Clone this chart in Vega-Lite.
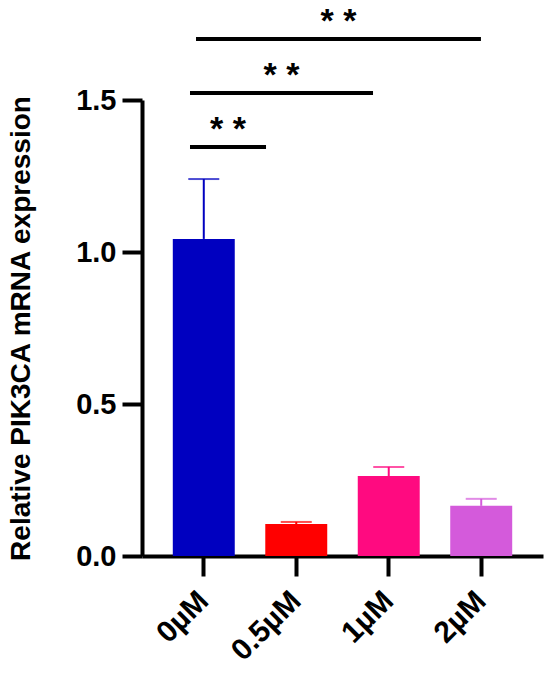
{
  "$schema": "https://vega.github.io/schema/vega-lite/v6.json",
  "width": 401,
  "height": 456,
  "autosize": {"type": "none"},
  "padding": {"left": 142, "top": 100, "right": 7, "bottom": 117},
  "background": "white",
  "config": {"view": {"stroke": null}, "font": "Liberation Sans"},
  "datasets": {
    "bars": [
      {"dose": "0µM", "mean": 1.043, "upper": 1.24},
      {"dose": "0.5µM", "mean": 0.105, "upper": 0.112},
      {"dose": "1µM", "mean": 0.263, "upper": 0.293},
      {"dose": "2µM", "mean": 0.165, "upper": 0.188}
    ],
    "sig": [
      {"x1": -0.149, "x2": 0.673, "xm": 0.262, "y": 1.345, "label": "* *"},
      {"x1": -0.149, "x2": 1.83, "xm": 0.84, "y": 1.523, "label": "* *"},
      {"x1": -0.084, "x2": 2.997, "xm": 1.456, "y": 1.701, "label": "* *"}
    ]
  },
  "layer": [
    {
      "data": {"name": "bars"},
      "encoding": {
        "x": {
          "field": "dose", "type": "nominal", "sort": null,
          "scale": {"paddingInner": 0.33, "paddingOuter": 0.333},
          "axis": {
            "title": null, "labelAngle": -45, "labelAlign": "right", "labelBaseline": "middle",
            "labelFontSize": 30, "labelFontWeight": "bold",
            "labelColor": "black", "labelPadding": 20, "domainWidth": 4, "domainColor": "black",
            "tickWidth": 4, "tickSize": 20, "tickColor": "black", "grid": false
          }
        },
        "color": {
          "field": "dose", "type": "nominal",
          "scale": {"domain": ["0µM", "0.5µM", "1µM", "2µM"], "range": ["#0000C0", "#FF0000", "#FF0A80", "#D45ADB"]},
          "legend": null
        }
      },
      "layer": [
        {
          "mark": {"type": "bar"},
          "encoding": {
            "y": {
              "field": "mean", "type": "quantitative",
              "scale": {"domain": [0, 1.5], "nice": false},
              "axis": {
                "title": "Relative PIK3CA mRNA expression", "values": [0, 0.5, 1, 1.5], "format": ".1f",
                "domainWidth": 4, "domainColor": "black", "tickWidth": 4, "tickSize": 20, "tickColor": "black",
                "labelFontSize": 29, "labelFontWeight": "bold", "labelColor": "black", "labelPadding": 6,
                "titleFontSize": 28, "titleFontWeight": "bold", "titleColor": "black", "titlePadding": 40,
                "grid": false
              }
            }
          }
        },
        {
          "mark": {"type": "rule", "strokeWidth": 2},
          "encoding": {
            "y": {"field": "mean", "type": "quantitative"},
            "y2": {"field": "upper"}
          }
        },
        {
          "mark": {"type": "tick", "thickness": 2, "size": 31},
          "encoding": {
            "y": {"field": "upper", "type": "quantitative"}
          }
        }
      ]
    },
    {
      "data": {"name": "sig"},
      "encoding": {
        "y": {"field": "y", "type": "quantitative", "axis": {"title": "Relative PIK3CA mRNA expression"}}
      },
      "layer": [
        {
          "mark": {"type": "rule", "strokeWidth": 4, "color": "black"},
          "encoding": {
            "x": {"field": "x1", "type": "quantitative", "scale": {"domain": [-0.668, 3.668], "nice": false, "zero": false}, "axis": null},
            "x2": {"field": "x2"}
          }
        },
        {
          "mark": {"type": "text", "fontSize": 34, "fontWeight": "bold", "color": "black", "baseline": "alphabetic", "align": "center", "dy": -7},
          "encoding": {
            "x": {"field": "xm", "type": "quantitative"},
            "text": {"field": "label"}
          }
        }
      ]
    }
  ],
  "resolve": {"scale": {"x": "independent"}}
}
